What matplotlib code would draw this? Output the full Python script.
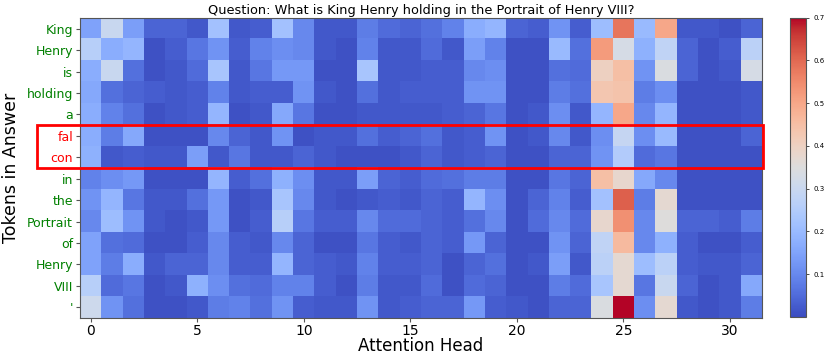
import numpy as np
import matplotlib
matplotlib.use("Agg")
import matplotlib.pyplot as plt
from matplotlib.patches import Rectangle

tokens = ["King", "Henry", "is", "holding", "a", "fal", "con", "in", "the",
          "Portrait", "of", "Henry", "VIII", "'"]
token_colors = ["green"] * 5 + ["red", "red"] + ["green"] * 7
heads = list(range(32))
xticks = [0, 5, 10, 15, 20, 25, 30]
cbar_ticks = [0.1, 0.2, 0.3, 0.4, 0.5, 0.6, 0.7]
title = "Question: What is King Henry holding in the Portrait of Henry VIII?"

row_king = [0.15, 0.30, 0.14, 0.04, 0.04, 0.02, 0.22, 0.02, 0.03, 0.22, 0.10, 0.02, 0.02, 0.08, 0.05, 0.04,
            0.06, 0.09, 0.17, 0.19, 0.04, 0.03, 0.12, 0.03, 0.21, 0.58, 0.20, 0.50, 0.02, 0.02, 0.01, 0.04]
row_henry = [0.26, 0.17, 0.19, 0.01, 0.03, 0.07, 0.12, 0.03, 0.09, 0.11, 0.10, 0.02, 0.01, 0.09, 0.02, 0.02,
             0.05, 0.02, 0.14, 0.09, 0.01, 0.01, 0.20, 0.06, 0.52, 0.33, 0.18, 0.28, 0.04, 0.01, 0.03, 0.27]
row_is = [0.17, 0.30, 0.06, 0.01, 0.02, 0.05, 0.23, 0.02, 0.07, 0.13, 0.13, 0.01, 0.01, 0.23, 0.02, 0.02,
          0.03, 0.03, 0.10, 0.11, 0.01, 0.01, 0.06, 0.05, 0.40, 0.45, 0.12, 0.34, 0.04, 0.01, 0.02, 0.33]
row_holding = [0.16, 0.06, 0.04, 0.03, 0.02, 0.03, 0.09, 0.02, 0.03, 0.03, 0.12, 0.02, 0.01, 0.06, 0.02, 0.03,
               0.03, 0.03, 0.12, 0.12, 0.01, 0.01, 0.08, 0.06, 0.43, 0.44, 0.08, 0.11, 0.01, 0.01, 0.01, 0.02]
row_a = [0.17, 0.09, 0.06, 0.01, 0.02, 0.03, 0.19, 0.01, 0.02, 0.16, 0.07, 0.01, 0.01, 0.02, 0.02, 0.02,
         0.02, 0.03, 0.04, 0.07, 0.01, 0.02, 0.11, 0.02, 0.19, 0.50, 0.10, 0.19, 0.01, 0.01, 0.01, 0.02]
row_fal = [0.17, 0.08, 0.16, 0.01, 0.01, 0.01, 0.10, 0.04, 0.02, 0.12, 0.01, 0.02, 0.02, 0.06, 0.03, 0.04,
           0.06, 0.02, 0.03, 0.12, 0.01, 0.02, 0.10, 0.02, 0.11, 0.29, 0.11, 0.20, 0.01, 0.01, 0.01, 0.04]
row_con = [0.18, 0.02, 0.03, 0.02, 0.02, 0.14, 0.02, 0.07, 0.02, 0.02, 0.04, 0.02, 0.01, 0.01, 0.01, 0.02,
           0.04, 0.02, 0.03, 0.04, 0.01, 0.01, 0.04, 0.04, 0.12, 0.25, 0.05, 0.07, 0.01, 0.01, 0.01, 0.01]
row_in = [0.09, 0.11, 0.13, 0.01, 0.01, 0.01, 0.19, 0.03, 0.06, 0.18, 0.11, 0.02, 0.02, 0.14, 0.04, 0.03,
          0.05, 0.06, 0.08, 0.08, 0.01, 0.01, 0.07, 0.04, 0.45, 0.38, 0.16, 0.10, 0.01, 0.01, 0.01, 0.01]
row_the = [0.12, 0.19, 0.07, 0.02, 0.02, 0.06, 0.13, 0.01, 0.02, 0.23, 0.10, 0.02, 0.01, 0.02, 0.03, 0.02,
           0.04, 0.03, 0.19, 0.11, 0.01, 0.04, 0.09, 0.03, 0.22, 0.61, 0.08, 0.37, 0.01, 0.01, 0.01, 0.01]
row_portrait = [0.10, 0.21, 0.12, 0.02, 0.01, 0.02, 0.13, 0.01, 0.03, 0.26, 0.07, 0.03, 0.03, 0.10, 0.05, 0.05,
                0.04, 0.03, 0.06, 0.10, 0.01, 0.05, 0.10, 0.05, 0.38, 0.54, 0.10, 0.35, 0.04, 0.04, 0.03, 0.08]
row_of = [0.15, 0.06, 0.05, 0.01, 0.01, 0.03, 0.10, 0.03, 0.02, 0.10, 0.04, 0.01, 0.01, 0.07, 0.03, 0.02,
          0.04, 0.03, 0.13, 0.04, 0.01, 0.01, 0.12, 0.04, 0.28, 0.46, 0.10, 0.18, 0.03, 0.01, 0.01, 0.03]
row_henry2 = [0.15, 0.08, 0.17, 0.02, 0.04, 0.04, 0.10, 0.03, 0.03, 0.19, 0.04, 0.03, 0.02, 0.09, 0.03, 0.03,
              0.04, 0.01, 0.04, 0.06, 0.01, 0.02, 0.14, 0.02, 0.27, 0.37, 0.21, 0.27, 0.03, 0.02, 0.02, 0.04]
row_viii = [0.26, 0.05, 0.07, 0.01, 0.02, 0.18, 0.11, 0.06, 0.05, 0.09, 0.09, 0.03, 0.01, 0.08, 0.02, 0.02,
            0.05, 0.01, 0.05, 0.04, 0.01, 0.01, 0.08, 0.05, 0.23, 0.37, 0.07, 0.30, 0.04, 0.01, 0.02, 0.16]
row_end = [0.31, 0.12, 0.06, 0.01, 0.01, 0.02, 0.08, 0.09, 0.06, 0.12, 0.03, 0.02, 0.02, 0.12, 0.02, 0.03,
           0.04, 0.04, 0.13, 0.03, 0.02, 0.01, 0.04, 0.04, 0.34, 0.70, 0.11, 0.37, 0.02, 0.01, 0.02, 0.08]

data = np.array([row_king, row_henry, row_is, row_holding, row_a, row_fal, row_con,
                 row_in, row_the, row_portrait, row_of, row_henry2, row_viii, row_end])

fig = plt.figure(figsize=(8.25, 3.58), dpi=100)
ax = fig.add_axes([0.097, 0.1117, 0.8266, 0.838])
cax = fig.add_axes([0.9576, 0.1145, 0.0194, 0.836])

im = ax.imshow(data, cmap="coolwarm", vmin=0.0, vmax=0.7, aspect="auto",
               interpolation="nearest")
ax.set_xticks(xticks)
ax.set_xticklabels([str(t) for t in xticks], fontsize=10)
ax.set_yticks(range(len(tokens)))
ax.set_yticklabels(tokens, fontsize=9)
ax.tick_params(axis="both", length=3, pad=2, color="#555555")
ax.tick_params(axis="x", pad=1.5)
for lbl, c in zip(ax.get_yticklabels(), token_colors):
    lbl.set_color(c)
for s in ax.spines.values():
    s.set_color("#555555")
ax.set_xlabel("Attention Head", fontsize=12, labelpad=-1)
ax.set_ylabel("Tokens in Answer", fontsize=12.5)
ax.yaxis.set_label_coords(-0.088, 0.5)
ax.set_title(title, fontsize=9.3, pad=3)

rect = Rectangle((-2.53, 4.5), 34.08, 2.0, fill=False, edgecolor="red",
                 linewidth=2, clip_on=False, zorder=5)
ax.add_patch(rect)

cb = fig.colorbar(im, cax=cax, ticks=cbar_ticks)
cb.ax.tick_params(labelsize=5, length=2, width=0.5)
cb.outline.set_edgecolor("#555555")

fig.savefig("out.png", dpi=100)
